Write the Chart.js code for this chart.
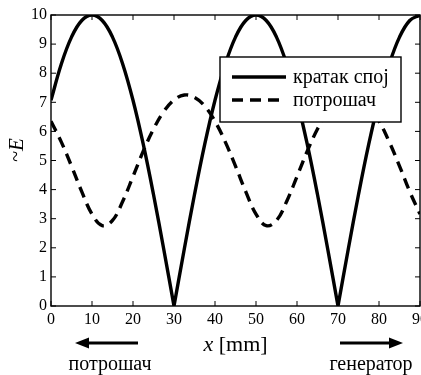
<!DOCTYPE html>
<html>
<head>
<meta charset="utf-8">
<script src="https://cdn.jsdelivr.net/npm/chart.js@4.4.0/dist/chart.umd.min.js"></script>
<style>
  html, body { margin: 0; padding: 0; background: #fff; }
  #wrap { width: 421px; height: 375px; position: relative; }
</style>
</head>
<body>
<div id="wrap"><canvas id="standingWaveChart"></canvas></div>
<script>
// x [mm] and ~E values (0 and 30/70 doubled for the sharp V)
const kratakX = [0, 2.5, 5, 7.5, 10, 12.5, 15, 17.5, 20, 22.5, 25, 27.5, 30, 30, 32.5, 35, 37.5, 40,
                 42.5, 45, 47.5, 50, 52.5, 55, 57.5, 60, 62.5, 65, 67.5, 70, 70, 72.5, 75, 77.5, 80,
                 82.5, 85, 87.5, 90];
const kratakY = [7.07, 8.31, 9.24, 9.81, 10, 9.81, 9.24, 8.31, 7.07, 5.56, 3.83, 1.95, 0, 0, 1.95, 3.83, 5.56, 7.07,
                 8.31, 9.24, 9.81, 10, 9.81, 9.24, 8.31, 7.07, 5.56, 3.83, 1.95, 0, 0, 1.95, 3.83, 5.56, 7.07,
                 8.31, 9.24, 9.81, 10];

const potrosacX = [0, 2.5, 5, 7.5, 10, 12.5, 15, 17.5, 20, 22.5, 25, 27.5, 30, 32.5, 35, 37.5, 40,
                   42.5, 45, 47.5, 50, 52.5, 55, 57.5, 60, 62.5, 65, 67.5, 70, 72.5, 75, 77.5, 80,
                   82.5, 85, 87.5, 90];
const potrosacY = [6.35, 5.64, 4.81, 3.93, 3.16, 2.76, 2.94, 3.60, 4.45, 5.32, 6.08, 6.68, 7.08, 7.25, 7.17, 6.87, 6.35,
                   5.64, 4.81, 3.93, 3.16, 2.76, 2.94, 3.60, 4.45, 5.32, 6.08, 6.68, 7.08, 7.25, 7.17, 6.87, 6.35,
                   5.64, 4.81, 3.93, 3.16];

const seriesLabels = ['кратак спој', 'потрошач'];
const xTitle = ['x', ' [mm]'];
const yTitle = ['~', 'E'];
const arrowLabels = ['потрошач', 'генератор'];

const serif = '"Liberation Serif", "Times New Roman", serif';

function toPoints(xs, ys) {
    return xs.map(function (x, i) { return { x: x, y: ys[i] }; });
}

// okvir, unutrasnji tikovi, legenda i natpisi
const decorPlugin = {
    id: 'decor',
    afterDatasetsDraw: function (chart) {
        const ctx = chart.ctx;
        const a = chart.chartArea;
        const xs = chart.scales.x;
        const ys = chart.scales.y;
        ctx.save();
        ctx.strokeStyle = '#000';
        ctx.lineWidth = 1.4;
        ctx.strokeRect(a.left, a.top, a.right - a.left, a.bottom - a.top);

        ctx.lineWidth = 1;
        const tl = 5;
        xs.ticks.forEach(function (t) {
            const px = xs.getPixelForValue(t.value);
            ctx.beginPath();
            ctx.moveTo(px, a.bottom); ctx.lineTo(px, a.bottom - tl);
            ctx.moveTo(px, a.top); ctx.lineTo(px, a.top + tl);
            ctx.stroke();
        });
        ys.ticks.forEach(function (t) {
            const py = ys.getPixelForValue(t.value);
            ctx.beginPath();
            ctx.moveTo(a.left, py); ctx.lineTo(a.left + tl, py);
            ctx.moveTo(a.right, py); ctx.lineTo(a.right - tl, py);
            ctx.stroke();
        });

        // legenda
        const lx = 220, ly = 57, lw = 181, lh = 65;
        ctx.fillStyle = '#fff';
        ctx.fillRect(lx, ly, lw, lh);
        ctx.lineWidth = 1.4;
        ctx.strokeRect(lx, ly, lw, lh);
        const rows = [77, 100];
        chart.data.datasets.forEach(function (ds, i) {
            ctx.beginPath();
            ctx.lineWidth = ds.borderWidth;
            ctx.setLineDash(ds.borderDash || []);
            ctx.moveTo(232, rows[i]);
            ctx.lineTo(286, rows[i]);
            ctx.stroke();
            ctx.setLineDash([]);
            ctx.fillStyle = '#000';
            ctx.font = '20px ' + serif;
            ctx.textAlign = 'left';
            ctx.textBaseline = 'middle';
            ctx.fillText(ds.label, 293, rows[i] + 1);
        });

        // naslov x ose
        ctx.textBaseline = 'middle';
        ctx.textAlign = 'left';
        ctx.font = 'italic 22px ' + serif;
        const w1 = ctx.measureText(xTitle[0]).width;
        ctx.font = '22px ' + serif;
        const w2 = ctx.measureText(xTitle[1]).width;
        const cx = (a.left + a.right) / 2;
        ctx.font = 'italic 22px ' + serif;
        ctx.fillText(xTitle[0], cx - (w1 + w2) / 2, 345);
        ctx.font = '22px ' + serif;
        ctx.fillText(xTitle[1], cx - (w1 + w2) / 2 + w1, 345);

        // naslov y ose
        ctx.save();
        ctx.translate(17, 150);
        ctx.rotate(-Math.PI / 2);
        ctx.font = '20px ' + serif;
        const v1 = ctx.measureText(yTitle[0]).width;
        ctx.font = 'italic 21px ' + serif;
        const v2 = ctx.measureText(yTitle[1]).width;
        ctx.font = '20px ' + serif;
        ctx.fillText(yTitle[0], -(v1 + v2) / 2, 0);
        ctx.font = 'italic 21px ' + serif;
        ctx.fillText(yTitle[1], -(v1 + v2) / 2 + v1, 0);
        ctx.restore();

        // strelice
        function arrow(x0, x1, y) {
            const dir = Math.sign(x1 - x0);
            ctx.beginPath();
            ctx.lineWidth = 3;
            ctx.moveTo(x0, y);
            ctx.lineTo(x1 - dir * 8, y);
            ctx.stroke();
            ctx.beginPath();
            ctx.moveTo(x1, y);
            ctx.lineTo(x1 - dir * 14, y - 5.5);
            ctx.lineTo(x1 - dir * 14, y + 5.5);
            ctx.closePath();
            ctx.fill();
        }
        arrow(138, 75, 343);
        arrow(340, 403, 343);
        ctx.font = '20px ' + serif;
        ctx.textAlign = 'center';
        ctx.fillText(arrowLabels[0], 110, 365);
        ctx.fillText(arrowLabels[1], 371, 365);
        ctx.restore();
    }
};

document.addEventListener('DOMContentLoaded', function () {
    const ctx = document.getElementById('standingWaveChart').getContext('2d');

    const data = {
        datasets: [
            {
                label: seriesLabels[0],
                data: toPoints(kratakX, kratakY),
                borderColor: '#000',
                borderWidth: 3.4,
                borderDash: [],
                tension: 0.4,
                pointRadius: 0,
                fill: false
            },
            {
                label: seriesLabels[1],
                data: toPoints(potrosacX, potrosacY),
                borderColor: '#000',
                borderWidth: 3.4,
                borderDash: [11, 7],
                tension: 0.4,
                pointRadius: 0,
                fill: false
            }
        ]
    };

    const config = {
        type: 'line',
        data: data,
        options: {
            responsive: true,
            maintainAspectRatio: false,
            animation: false,
            layout: { padding: { left: 0, top: 15, right: 1, bottom: 0 } },
            plugins: {
                legend: { display: false },
                tooltip: { enabled: false }
            },
            scales: {
                x: {
                    type: 'linear',
                    min: 0,
                    max: 90,
                    grid: { display: false, drawTicks: false },
                    border: { display: false },
                    ticks: {
                        stepSize: 10,
                        color: '#000',
                        padding: 4,
                        maxRotation: 0,
                        font: { family: serif, size: 16 }
                    },
                    afterFit: function (scale) {
                        scale.height = 69;
                        scale.paddingLeft = 0;
                        scale.paddingRight = 0;
                    }
                },
                y: {
                    min: 0,
                    max: 10,
                    grid: { display: false, drawTicks: false },
                    border: { display: false },
                    ticks: {
                        stepSize: 1,
                        color: '#000',
                        padding: 4,
                        font: { family: serif, size: 16 }
                    },
                    afterFit: function (scale) {
                        scale.width = 51;
                        scale.paddingTop = 0;
                        scale.paddingBottom = 0;
                    }
                }
            }
        },
        plugins: [decorPlugin]
    };

    new Chart(ctx, config);
});
</script>
</body>
</html>
